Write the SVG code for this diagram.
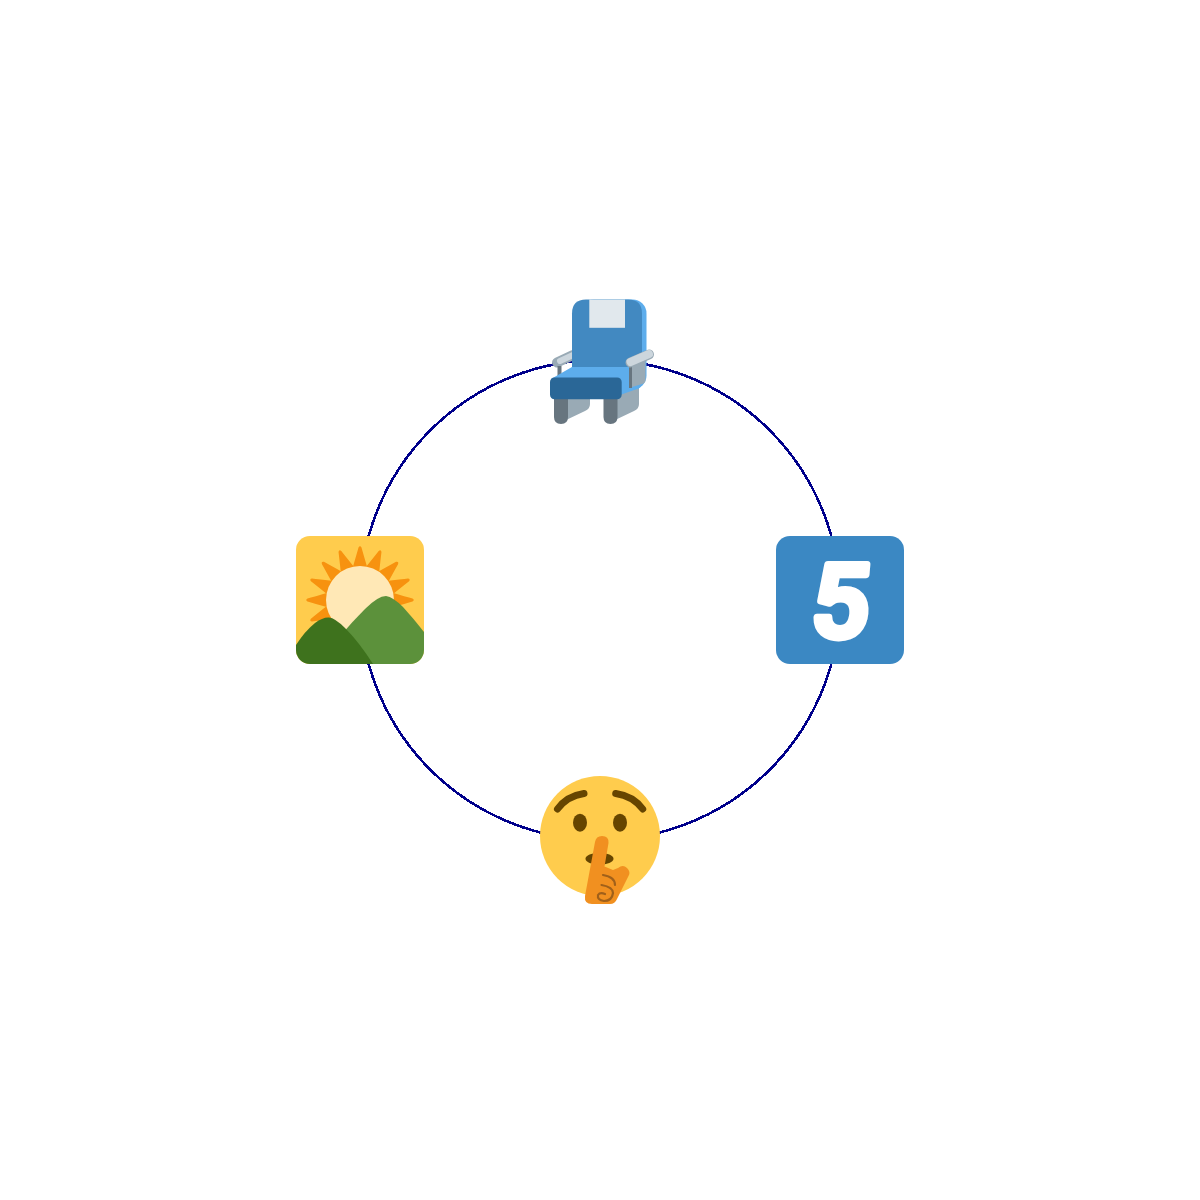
<svg xmlns="http://www.w3.org/2000/svg" xmlns:xlink="http://www.w3.org/1999/xlink" width="1200" height="1200" viewBox="0 0 1200 1200">
<style>
.ring{fill:none;stroke:#00008b;stroke-width:2.6;shape-rendering:crispEdges}
.grey{fill:#99aab5}.slate{fill:#67757f}.sky{fill:#5dadec}.blue{fill:#4289c1}
.arm{fill:none;stroke-linecap:round}
.brow{fill:none;stroke:#664500;stroke-width:7;stroke-linecap:round}
.swirl{fill:none;stroke:#a0601a;stroke-width:2.2;stroke-linecap:round}
.digit{font-family:Roboto,"Liberation Sans",sans-serif;font-weight:500;font-size:102px;fill:#fff;stroke:#fff;stroke-width:7;stroke-linejoin:round;text-anchor:middle}
</style>
<defs>
<clipPath id="sq"><rect x="296" y="536" width="128" height="128" rx="14"/></clipPath>
<clipPath id="hb"><rect x="536" y="776" width="128" height="128"/></clipPath>
<path id="ray" fill="#f7920f" d="M-8,-30Q-3,-47 -1.500,-52.500Q0,-55 1.500,-52.500Q3,-47 8,-30Z"/>
</defs>
<rect width="1200" height="1200" fill="#fff"/>
<g id="connectors"><circle class="ring" cx="600" cy="600" r="240"/></g>
<g id="node-seat">
<path class="grey" d="M568,385H590V404Q590,409 585,411L564,421Z"/>
<path class="slate" d="M554,396H568V417Q568,424 561,424Q554,424 554,417Z"/>
<path class="grey" d="M617,385H639V404Q639,409 634,411L613,421Z"/>
<path class="slate" d="M603.500,396H617.500V417Q617.500,424 610.500,424Q603.500,424 603.500,417Z"/>
<path class="arm" stroke="#99aab5" stroke-width="10" d="M557,362.500L573,355"/>
<path class="arm" stroke="#ccd6dd" stroke-width="6" d="M560,361L573,355"/>
<rect class="slate" x="557.500" y="366" width="4" height="14"/>
<rect class="sky" x="580" y="299.500" width="66.500" height="90" rx="14"/>
<path class="blue" d="M586,299.500H628Q642,299.500 642,313.500V372H572V313.500Q572,299.500 586,299.500Z"/>
<rect x="589.300" y="299.500" width="35.700" height="28.300" fill="#e1e8ed"/>
<path class="sky" d="M551,379L572,367H640L641,385Q641,388 637,389L620,395H551Z"/>
<rect x="550" y="377.500" width="71.700" height="21.800" rx="4.500" fill="#2a6797"/>
<path class="grey" d="M629,367L645.500,359V380Q645.500,383 642,384L629,388Z"/>
<rect class="slate" x="629" y="365" width="3" height="23"/>
<path class="arm" stroke="#99aab5" stroke-width="10" d="M630.500,362.500L649,354.500"/>
<path class="arm" stroke="#ccd6dd" stroke-width="8" d="M630.500,362L649,354"/>
</g>
<g id="node-keycap">
<rect x="776" y="536" width="128" height="128" rx="14" fill="#3b88c3"/>
<text class="digit" x="0" y="0" transform="translate(838,637) skewX(-5)">5</text>
</g>
<g id="node-shush">
<circle cx="600" cy="836" r="60" fill="#ffcc4d"/>
<path class="brow" d="M557.500,809Q567,796 584,793.500"/>
<path class="brow" d="M615.700,793.500Q633,796 642.700,809"/>
<ellipse cx="580" cy="822.700" rx="7" ry="9" fill="#664500"/>
<ellipse cx="620" cy="822.700" rx="7" ry="9" fill="#664500"/>
<ellipse cx="599.500" cy="858.800" rx="14" ry="6" fill="#664500"/>
<g clip-path="url(#hb)">
<path fill="#f19020" d="M595,842Q596,836 602,836Q609,836 608.500,843L604.500,866.500L613,870L618,868Q623,864 627,868Q631,872 628.500,876L617,899Q615,904 610,904H592Q584,904 585,896Z"/>
<path class="swirl" d="M603,875Q615,877 615,885"/>
<path class="swirl" d="M601.500,885Q613,887 613,893Q612,901 604,901Q597,900 598,895Q600,892 605,894"/>
</g>
</g>
<g id="node-sunrise">
<g clip-path="url(#sq)">
<rect x="296" y="536" width="128" height="128" fill="#ffcc4d"/>
<g transform="translate(360,600)">
<use xlink:href="#ray"/>
<use xlink:href="#ray" transform="rotate(22.5)"/>
<use xlink:href="#ray" transform="rotate(45)"/>
<use xlink:href="#ray" transform="rotate(67.5)"/>
<use xlink:href="#ray" transform="rotate(90)"/>
<use xlink:href="#ray" transform="rotate(112.5)"/>
<use xlink:href="#ray" transform="rotate(247.5)"/>
<use xlink:href="#ray" transform="rotate(270)"/>
<use xlink:href="#ray" transform="rotate(292.5)"/>
<use xlink:href="#ray" transform="rotate(315)"/>
<use xlink:href="#ray" transform="rotate(337.5)"/>
<use xlink:href="#ray" transform="rotate(-135)"/>
</g>
<circle cx="360" cy="600" r="34" fill="#ffe8b6"/>
<path fill="#5c913b" d="M342,634Q352,622 365,609Q378,596 386,596Q393,597 403,607Q414,619 424,632V664H342Z"/>
<path fill="#3e721d" d="M296,645Q305,631 315,623Q323,617 329,617.500Q335,618 345,628Q359,642 373,664H296Z"/>
</g>
</g>
</svg>
